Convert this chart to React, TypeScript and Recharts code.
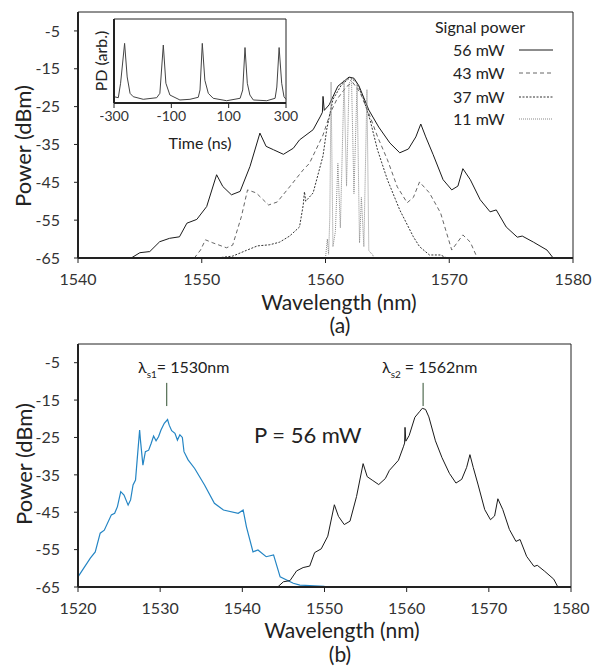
import React from "react";
import { LineChart, Line, XAxis, YAxis, ReferenceLine } from "recharts";

// signal power spectra, panel (a) and black curve of panel (b)
const LAM_56 = [1544.3, 1545.0, 1545.8, 1546.6, 1547.4, 1548.2, 1548.8, 1549.6, 1550.4, 1551.2, 1551.7, 1552.4, 1553.1, 1553.9, 1554.7, 1555.2, 1555.8, 1556.6, 1557.4, 1557.9, 1559.0, 1559.6, 1559.75, 1559.8, 1559.9, 1560.3, 1561.0, 1561.6, 1561.9, 1562.3, 1562.7, 1563.5, 1564.3, 1565.2, 1566.0, 1566.7, 1567.3, 1567.7, 1568.1, 1568.7, 1569.5, 1570.2, 1570.7, 1571.1, 1571.7, 1572.5, 1573.3, 1573.8, 1574.6, 1575.5, 1575.9, 1576.8, 1577.9, 1578.4];
const POW_56 = [-65, -63.6, -63.3, -60.7, -59.8, -59.4, -55.8, -54.8, -51.4, -43.0, -46.1, -48.3, -47.4, -40.8, -32.0, -35.5, -36.4, -37.6, -36.0, -33.8, -31.1, -27.5, -26.5, -22.3, -26, -24.5, -19.6, -18.0, -17.2, -17.5, -19.5, -25.9, -30.4, -34.6, -37.2, -36.2, -33, -29.6, -33, -37.7, -44.3, -47.0, -46, -41.4, -44.3, -49.6, -52.8, -52.3, -56.8, -59.5, -59.2, -60.8, -62.9, -65];

const LAM_43 = [1549.4, 1549.9, 1550.3, 1550.9, 1552.0, 1552.5, 1553.2, 1553.7, 1554.4, 1555.4, 1556.1, 1557.1, 1558.2, 1558.7, 1559.8, 1560.4, 1560.9, 1561.7, 1562.2, 1562.8, 1563.6, 1564.2, 1565.0, 1565.8, 1566.6, 1567.1, 1567.6, 1568.4, 1569.3, 1570.2, 1571.1, 1571.7, 1572.2];
const POW_43 = [-65, -62.9, -60.2, -61, -62.3, -61.6, -54.1, -47, -47.8, -51, -50.2, -46.2, -41.7, -40, -32.5, -26.6, -23.2, -19.7, -18.6, -21.3, -27.6, -32.9, -39, -46.2, -50.4, -49, -44.9, -47.8, -53.1, -62.9, -58.9, -60.8, -64.5];

const LAM_37 = [1549.9, 1551.2, 1552.5, 1553.6, 1554.5, 1555.5, 1556.3, 1557.1, 1557.9, 1558.2, 1558.3, 1558.4, 1559.0, 1559.8, 1560.1, 1560.6, 1561.3, 1562.0, 1562.5, 1563.0, 1563.6, 1564.2, 1565.0, 1566.0, 1567.1, 1567.6, 1568.4, 1569.3, 1569.8];
const POW_37 = [-65, -65, -64.5, -63, -61.8, -61.5, -60.8, -59.2, -56.8, -51, -47.5, -50, -47.8, -38, -31, -23.1, -19.2, -17.3, -18.6, -22.3, -28.5, -36.4, -44.3, -52.3, -59.4, -62, -64.2, -64.2, -65];

const LAM_11 = [1560.0, 1560.15, 1560.25, 1560.35, 1560.45, 1560.6, 1560.8, 1561.0, 1561.2, 1561.5, 1561.7, 1561.9, 1562.1, 1562.3, 1562.55, 1562.75, 1562.9, 1563.1, 1563.35, 1563.5, 1563.6, 1563.8, 1563.9];
const POW_11 = [-65, -60, -64, -54, -18.5, -62, -58, -40, -57, -18, -46, -19, -17.5, -48, -19, -61, -49, -62, -20.5, -63, -63.5, -64, -65];

// panel (b) blue curve, signal at 1530 nm
const LAM_1530 = [1520.0, 1521.5, 1522.1, 1522.7, 1523.2, 1524.06, 1524.46, 1524.8, 1525.2, 1525.6, 1526.1, 1526.4, 1526.7, 1527.0, 1527.2, 1527.5, 1527.6, 1527.9, 1528.2, 1528.6, 1528.9, 1529.2, 1529.5, 1529.8, 1530.1, 1530.5, 1530.9, 1531.1, 1531.4, 1531.8, 1532.1, 1532.4, 1532.7, 1532.9, 1533.4, 1534.2, 1535.4, 1536.6, 1537.7, 1539.5, 1540.1, 1540.5, 1541.3, 1541.9, 1542.9, 1543.8, 1544.6, 1546.2, 1547.0, 1550.0, 1555.0];
const POW_1530 = [-62.3, -57.3, -55.6, -50.6, -49.8, -45.7, -45.3, -43.5, -39.5, -40.4, -43.1, -41.7, -37.7, -36.4, -31.0, -23.0, -25.7, -32.4, -28.8, -28.4, -26.6, -24.6, -25.9, -24.8, -23.0, -21.2, -20.2, -21.7, -23.2, -23.9, -25.7, -24.3, -25.0, -28.8, -31.0, -33.3, -37.7, -42.6, -44.4, -45.3, -44.4, -48.9, -55.6, -55.1, -56.9, -56.4, -62.3, -64.0, -64.5, -64.8, -65];

// inset: photodiode trace
const T_NS = [-300, -285, -277, -263, -254, -244, -233, -198, -151, -140, -128, -119, -105, -70, -35, -6, 0, 8, 17, 29, 46, 93, 140, 149, 157, 165, 174, 186, 233, 262, 268, 276, 285, 293, 300];
const PD = [0.075, 0.063, 0.235, 0.71, 0.31, 0.115, 0.075, 0.044, 0.063, 0.115, 0.69, 0.235, 0.095, 0.036, 0.044, 0.068, 0.155, 0.71, 0.27, 0.115, 0.056, 0.027, 0.056, 0.155, 0.66, 0.235, 0.095, 0.036, 0.027, 0.056, 0.19, 0.66, 0.235, 0.075, 0.044];

const Y_TICKS = [-65, -55, -45, -35, -25, -15, -5];
const X_TICKS_A = [1540, 1550, 1560, 1570, 1580];
const X_TICKS_B = [1520, 1530, 1540, 1550, 1560, 1570, 1580];
const T_TICKS = [-300, -100, 100, 300];

const pairs = (xs: number[], ys: number[]) => xs.map((x, i) => ({ x, y: ys[i] }));

const FONT = "Lato, 'Open Sans', sans-serif";
const INK = "#222";
const tick = { fill: "#333", fontSize: 16, fontFamily: FONT };

const SERIES_A = [
  { name: "56 mW", data: pairs(LAM_56, POW_56), color: "#1a1a1a", dash: undefined as string | undefined },
  { name: "43 mW", data: pairs(LAM_43, POW_43), color: "#666", dash: "4 3" },
  { name: "37 mW", data: pairs(LAM_37, POW_37), color: "#333", dash: "2 1.5" },
  { name: "11 mW", data: pairs(LAM_11, POW_11), color: "#888", dash: "1 1" },
];

const label = (style: React.CSSProperties, text: React.ReactNode) => (
  <div style={{ position: "absolute", fontFamily: FONT, color: INK, whiteSpace: "nowrap", lineHeight: 1, ...style }}>{text}</div>
);

export default function App() {
  return (
    <div style={{ position: "absolute", left: 0, top: 0, width: 592, height: 667, background: "#fff", overflow: "hidden" }}>
      {/* panel (a) */}
      <div style={{ position: "absolute", left: 0, top: 0 }}>
        <LineChart width={592} height={330} margin={{ top: 12, right: 19, left: 0, bottom: 42 }}>
          <XAxis type="number" dataKey="x" domain={[1540, 1580]} ticks={X_TICKS_A} height={30}
            tick={tick} tickSize={5} tickMargin={11} axisLine={{ stroke: INK, strokeWidth: 2 }} tickLine={{ stroke: INK }} />
          <YAxis type="number" dataKey="y" domain={[-65, 0]} ticks={Y_TICKS} width={78}
            tick={tick} tickSize={4} tickMargin={14} axisLine={{ stroke: INK, strokeWidth: 2 }} tickLine={{ stroke: INK }} />
          <ReferenceLine y={0} stroke={INK} strokeWidth={1} />
          <ReferenceLine x={1580} stroke={INK} strokeWidth={1} />
          {SERIES_A.map(s => (
            <Line key={s.name} data={s.data} dataKey="y" type="linear" stroke={s.color} strokeWidth={1}
              strokeDasharray={s.dash} dot={false} isAnimationActive={false} />
          ))}
        </LineChart>
      </div>

      {/* inset */}
      <div style={{ position: "absolute", left: 100, top: 7 }}>
        <LineChart width={200} height={120} margin={{ top: 12, right: 14, left: 0, bottom: 0 }}>
          <XAxis type="number" dataKey="x" domain={[-300, 300]} ticks={T_TICKS} height={24}
            tick={{ ...tick, fontSize: 14 }} tickSize={5} tickMargin={3} axisLine={{ stroke: INK, strokeWidth: 2 }} tickLine={{ stroke: INK }} />
          <YAxis type="number" dataKey="y" domain={[0, 1]} ticks={[]} width={14} tick={false} tickLine={false}
            axisLine={{ stroke: INK, strokeWidth: 2 }} />
          <ReferenceLine y={1} stroke={INK} strokeWidth={1} />
          <ReferenceLine x={300} stroke={INK} strokeWidth={1} />
          <Line data={pairs(T_NS, PD)} dataKey="y" type="linear" stroke="#444" strokeWidth={1} dot={false} isAnimationActive={false} />
        </LineChart>
      </div>
      {label({ left: 200, top: 143, fontSize: 16, transform: "translate(-50%,-50%)" }, "Time (ns)")}
      {label({ left: 101, top: 61, fontSize: 16, transform: "translate(-50%,-50%) rotate(-90deg)" }, "PD (arb.)")}

      {/* legend */}
      {label({ left: 435, top: 27, fontSize: 16, transform: "translateY(-50%)" }, "Signal power")}
      {SERIES_A.map((s, i) => (
        <div key={s.name} style={{ position: "absolute", left: 453, top: [50, 73, 97, 119][i], transform: "translateY(-50%)", display: "flex", alignItems: "center" }}>
          <span style={{ fontFamily: FONT, fontSize: 16, color: INK, width: 66, lineHeight: 1 }}>{s.name}</span>
          <svg width={34} height={4}><line x1={0} y1={2} x2={34} y2={2} stroke={s.color} strokeWidth={1} strokeDasharray={s.dash} /></svg>
        </div>
      ))}

      {label({ left: 23, top: 146, fontSize: 22, transform: "translate(-50%,-50%) rotate(-90deg)" }, "Power (dBm)")}
      {label({ left: 339, top: 301, fontSize: 21, transform: "translate(-50%,-50%)" }, "Wavelength (nm)")}
      {label({ left: 340, top: 324, fontSize: 21, transform: "translate(-50%,-50%)" }, "(a)")}

      {/* panel (b) */}
      <div style={{ position: "absolute", left: 0, top: 330 }}>
        <LineChart width={592} height={337} margin={{ top: 14, right: 21, left: 0, bottom: 50 }}>
          <XAxis type="number" dataKey="x" domain={[1520, 1580]} ticks={X_TICKS_B} height={30}
            tick={tick} tickSize={5} tickMargin={11} axisLine={{ stroke: INK, strokeWidth: 2 }} tickLine={{ stroke: INK }} />
          <YAxis type="number" dataKey="y" domain={[-65, 0]} ticks={Y_TICKS} width={78}
            tick={tick} tickSize={4} tickMargin={14} axisLine={{ stroke: INK, strokeWidth: 2 }} tickLine={{ stroke: INK }} />
          <ReferenceLine y={0} stroke={INK} strokeWidth={1} />
          <ReferenceLine x={1580} stroke={INK} strokeWidth={1} />
          <ReferenceLine segment={[{ x: 1530.8, y: -10.4 }, { x: 1530.8, y: -16.6 }]} stroke="#2f4f2f" strokeWidth={1} />
          <ReferenceLine segment={[{ x: 1562.0, y: -10.4 }, { x: 1562.0, y: -16.6 }]} stroke="#2f4f2f" strokeWidth={1} />
          <Line data={pairs(LAM_1530, POW_1530)} dataKey="y" type="linear" stroke="#2485c4" strokeWidth={1.2} dot={false} isAnimationActive={false} />
          <Line data={pairs(LAM_56, POW_56)} dataKey="y" type="linear" stroke="#1a1a1a" strokeWidth={1} dot={false} isAnimationActive={false} />
        </LineChart>
      </div>
      {label({ left: 138, top: 369, fontSize: 16, transform: "translateY(-50%)" }, <>λ<sub style={{ fontSize: 10 }}>s1</sub>= 1530nm</>)}
      {label({ left: 382, top: 369, fontSize: 16, transform: "translateY(-50%)" }, <>λ<sub style={{ fontSize: 10 }}>s2</sub> = 1562nm</>)}
      {label({ left: 254, top: 435, fontSize: 22, transform: "translateY(-50%)" }, "P = 56 mW")}
      {label({ left: 24, top: 464, fontSize: 22, transform: "translate(-50%,-50%) rotate(-90deg)" }, "Power (dBm)")}
      {label({ left: 342, top: 629, fontSize: 21, transform: "translate(-50%,-50%)" }, "Wavelength (nm)")}
      {label({ left: 340, top: 653, fontSize: 21, transform: "translate(-50%,-50%)" }, "(b)")}
    </div>
  );
}
